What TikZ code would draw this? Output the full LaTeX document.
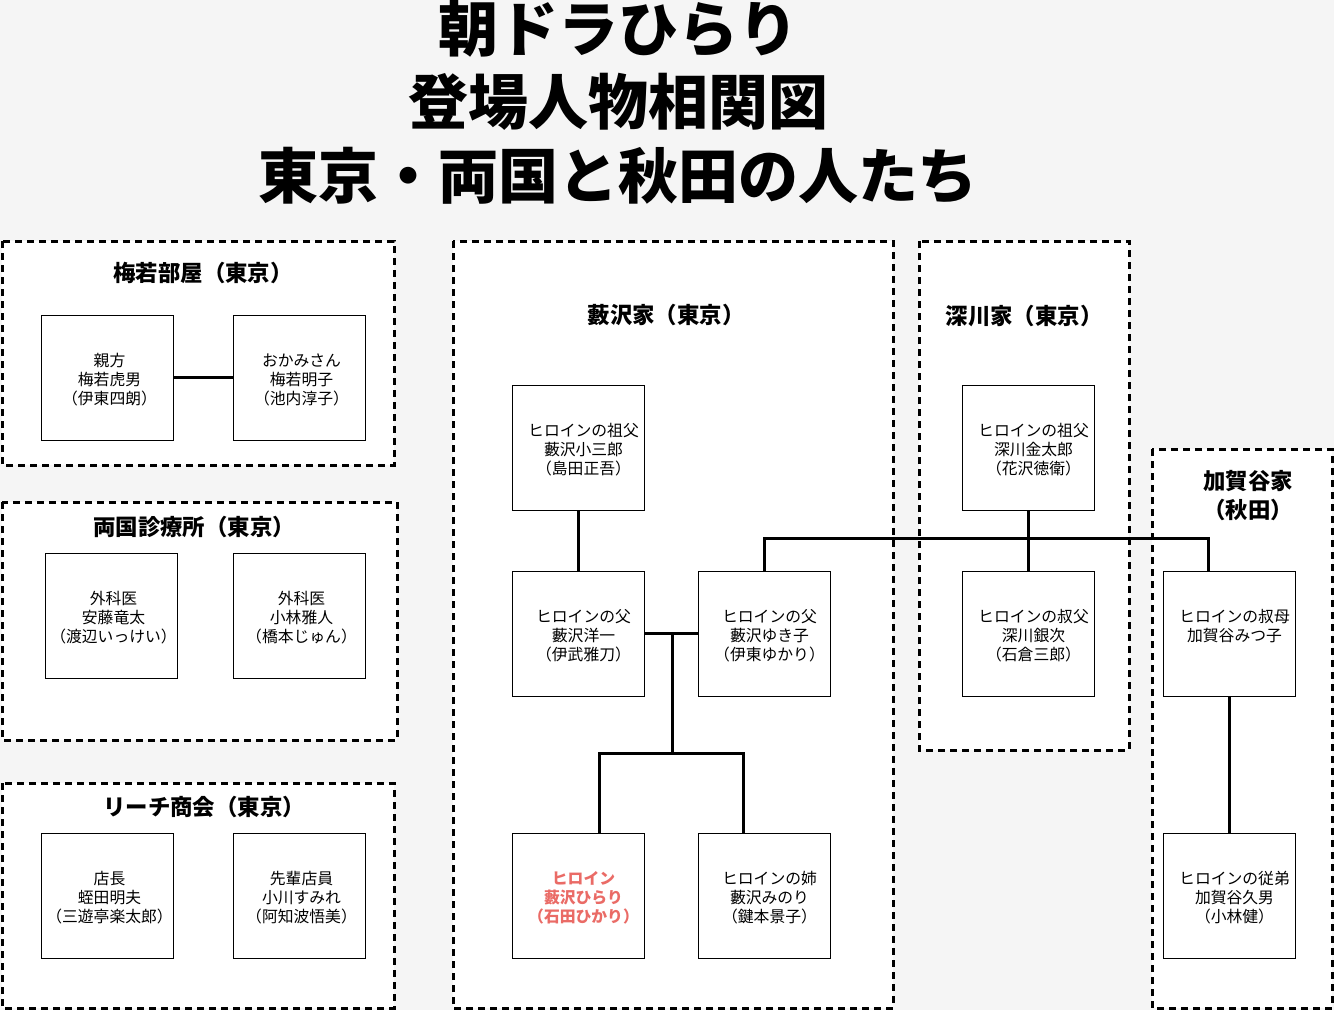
\documentclass[tikz,border=0pt]{standalone}
\usepackage{fontspec}
\setmainfont{Noto Sans CJK JP}
\usepackage{xcolor}
\usepackage{tikz}
\usetikzlibrary{positioning}

\definecolor{bgGray}{HTML}{F5F5F5}
\definecolor{heroRed}{HTML}{EA6B66}

\newcommand{\rolecast}[4][11pt]{\makebox[0pt]{\raisebox{0pt}[\dimexpr\height+8pt\relax][\depth]{%
  \begin{tabular}{@{\hspace{#1}}c@{}}#2\\#3\\#4\strut\end{tabular}}}}

\begin{document}
\begin{tikzpicture}[
    x=1pt, y=-1pt,
    person/.style={
        draw,
        fill=white,
        line width=1pt,
        font=\fontsize{15.8}{19}\selectfont,
        minimum width=132pt,
        minimum height=125pt,
        inner sep=0pt
    },
    family/.style={
        draw,
        fill=white,
        line width=3pt,
        dash pattern=on 7pt off 5pt
    },
    grouplabel/.style={
        align=center,
        font=\fontsize{22.4}{29}\selectfont\bfseries,
        inner sep=0pt
    },
    link/.style={line width=3pt}
]
\useasboundingbox[fill=bgGray] (0,0) rectangle (1334,1010);

\node[align=center, font=\fontsize{60}{73.5}\selectfont\bfseries] (title) at (618,102)
  {朝ドラひらり\\登場人物相関図\\東京・両国と秋田の人たち};

% groups
\draw[family] (2,241) rectangle (394,465);
\draw[family] (2,502) rectangle (397,740);
\draw[family] (2,783) rectangle (394,1008);
\draw[family] (453,241) rectangle (893,1008);
\draw[family] (919,241) rectangle (1129,750);
\draw[family] (1152,449) rectangle (1332,1008);

\node[grouplabel] (umewaka) at (203,273) {梅若部屋（東京）};
\node[grouplabel] (ryogoku) at (194,527) {両国診療所（東京）};
\node[grouplabel] (reach) at (204,807) {リーチ商会（東京）};
\node[grouplabel] (yabusawa) at (666,315) {藪沢家（東京）};
\node[grouplabel] (fukagawa) at (1024,316) {深川家（東京）};
\node[grouplabel] (kagaya) at (1248,496) {加賀谷家\\（秋田）};

% people
\node[person] (oyakata) at (107,377.5) {\rolecast[5pt]{親方}{梅若虎男}{（伊東四朗）}};
\node[person] (okami) at (299,377.5) {\rolecast[5pt]{おかみさん}{梅若明子}{（池内淳子）}};
\node[person] (ando) at (111,615.5) {\rolecast[5pt]{外科医}{安藤竜太}{（渡辺いっけい）}};
\node[person] (kobayashi) at (299,615.5) {\rolecast[5pt]{外科医}{小林雅人}{（橋本じゅん）}};
\node[person] (tencho) at (107,895.5) {\rolecast[5pt]{店長}{蛭田明夫}{（三遊亭楽太郎）}};
\node[person] (senpai) at (299,895.5) {\rolecast[5pt]{先輩店員}{小川すみれ}{（阿知波悟美）}};

\node[person] (sofu) at (578,447.5) {\rolecast{ヒロインの祖父}{藪沢小三郎}{（島田正吾）}};
\node[person] (yoichi) at (578,633.5) {\rolecast{ヒロインの父}{藪沢洋一}{（伊武雅刀）}};
\node[person, right=53pt of yoichi] (yukiko) {\rolecast{ヒロインの父}{藪沢ゆき子}{（伊東ゆかり）}};
\node[person, text=heroRed, font=\fontsize{15.8}{19}\selectfont\bfseries] (hirari) at (578,895.5)
  {\rolecast{ヒロイン}{藪沢ひらり}{（石田ひかり）}};
\node[person, right=53pt of hirari] (minori) {\rolecast{ヒロインの姉}{藪沢みのり}{（鍵本景子）}};

\node[person] (kintaro) at (1028,447.5) {\rolecast{ヒロインの祖父}{深川金太郎}{（花沢徳衛）}};
\node[person] (ginji) at (1028,633.5) {\rolecast{ヒロインの叔父}{深川銀次}{（石倉三郎）}};
\node[person] (mitsuko) at (1229,633.5) {\rolecast{ヒロインの叔母}{加賀谷みつ子}{}};
\node[person] (hisao) at (1229,895.5) {\rolecast{ヒロインの従弟}{加賀谷久男}{（小林健）}};

% links
\coordinate (couple) at (672,633.5);
\coordinate (kids) at (672,753);

\draw[link] (oyakata) -- (okami);
\draw[link] (sofu) -- (yoichi);
\draw[link] (yoichi) -- (yukiko);
\draw[link] (couple) -- (kids);
\draw[link] ([xshift=21pt]hirari.north) |- (kids) -| ([xshift=-21pt]minori.north);
\draw[link] (yukiko.north) -- ++(0,-32) -| ([xshift=-21pt]mitsuko.north);
\draw[link] (kintaro) -- (ginji);
\draw[link] (mitsuko) -- (hisao);

\end{tikzpicture}
\end{document}
